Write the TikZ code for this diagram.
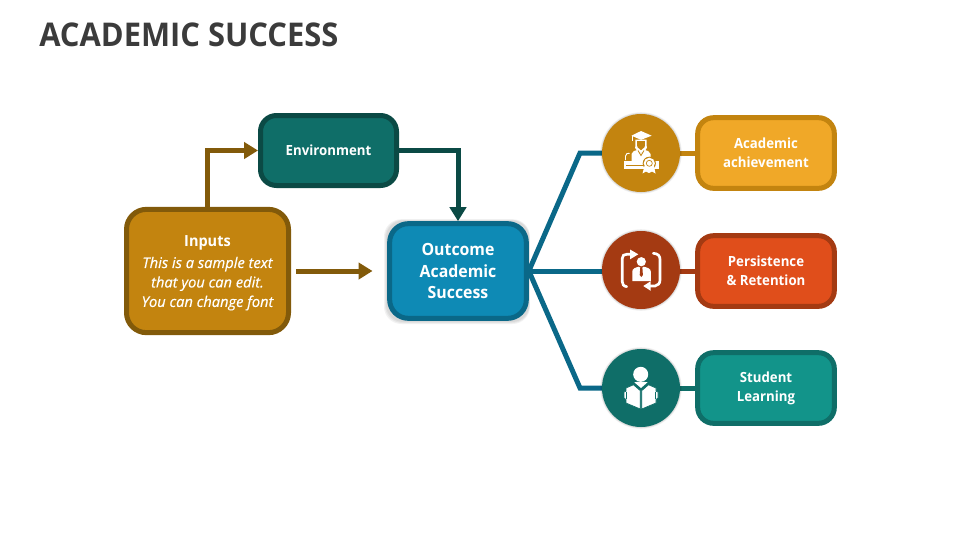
\documentclass[tikz,border=0pt]{standalone}
\usepackage{fontspec}
\setmainfont{Open Sans}[BoldFeatures={FakeStretch=0.945},ItalicFeatures={FakeBold=0.5}]
\usetikzlibrary{arrows.meta}
\definecolor{titleink}{HTML}{3B3B3B}
\definecolor{goldfill}{HTML}{C3840F}
\definecolor{goldline}{HTML}{825A0A}
\definecolor{tealfill}{HTML}{0F6E68}
\definecolor{tealline}{HTML}{0B4A45}
\definecolor{bluefill}{HTML}{0E8AB5}
\definecolor{blueline}{HTML}{0A6888}
\definecolor{amberfill}{HTML}{F0A828}
\definecolor{rustfill}{HTML}{E04E1B}
\definecolor{rustline}{HTML}{A43A12}
\definecolor{seafill}{HTML}{12948A}
\tikzset{
  x=0.75pt,y=-0.75pt,
  card/.style={draw=#1,line width=3.75pt,rounded corners=12pt,align=center,text=white,inner sep=0pt,font=\fontsize{10.5}{14.2}\selectfont\bfseries},
  hub/.style={circle,fill=#1,minimum size=58.5pt,inner sep=0pt},
  link/.style={draw=#1,line width=3.75pt},
  flow/.style={draw=#1,line width=3.75pt,-{Triangle[length=10.5pt,width=12.2pt]}},
  ink/.style={fill=white,draw=none}
}
% soft halo placed beneath a shape
\newcommand{\halocircle}[3]{\foreach \w in {1,2,3}{\fill[black,opacity=0.05] (#1,#2) circle[radius=#3+\w*0.6];}}
\begin{document}
\begin{tikzpicture}
\useasboundingbox (0,0) rectangle (960,540);
\fill[white] (0,0) rectangle (960,540);

\node[anchor=west,text=titleink,font=\fontsize{24.5}{28}\selectfont\bfseries,inner sep=0pt] (title) at (39,34.5) {ACADEMIC SUCCESS};

% halo for the centre card
\foreach \w in {1,2,3}{\fill[black,opacity=0.05,rounded corners=13pt] (387-\w,221-\w*0.6) rectangle (529+\w*0.3,321+\w);}

% left side cards
\node[card=goldline,fill=goldfill,minimum width=121.5pt,minimum height=92.5pt,rounded corners=15pt,font=\fontsize{11}{14.6}\selectfont\itshape] (inputs) at (207.5,271) {\rule{0pt}{11.5pt}{\fontsize{11.5}{14.6}\selectfont\bfseries\upshape Inputs}\\[1.2pt]This is a sample text\\that you can edit.\\You can change font};
\node[card=tealline,fill=tealfill,minimum width=102pt,minimum height=52.5pt] (env) at (328.5,150.5) {Environment};
\node[card=blueline,fill=bluefill,minimum width=102.5pt,minimum height=71pt,rounded corners=14pt,font=\fontsize{12.6}{16.2}\selectfont\bfseries] (outcome) at (458,271) {Outcome\\Academic\\Success};

% right side cards
\node[card=goldfill,fill=amberfill,minimum width=102.5pt,minimum height=53pt] (acad) at (766,153) {Academic\\achievement};
\node[card=rustline,fill=rustfill,minimum width=102.5pt,minimum height=53pt] (pers) at (766,271) {Persistence\\\& Retention};
\node[card=tealfill,fill=seafill,minimum width=102.5pt,minimum height=53pt] (stud) at (766,388) {Student\\Learning};

% connectors from the centre card out to the hubs
\coordinate (bendtop) at (580,153);
\coordinate (bendlow) at (580,388);
\coordinate (htop) at (641,153);
\coordinate (hmid) at (641,271);
\coordinate (hlow) at (641,388);
\draw[link=blueline,line join=miter] (outcome.east) -- (bendtop) -- (htop);
\draw[link=blueline] (outcome.east) -- (hmid);
\draw[link=blueline,line join=miter] (outcome.east) -- (bendlow) -- (hlow);
\draw[link=goldfill] (htop) -- (acad.west);
\draw[link=rustline] (hmid) -- (pers.west);
\draw[link=tealfill] (hlow) -- (stud.west);

% arrows among the left cards
\draw[flow=goldline] (inputs.north) |- (env.west);
\draw[flow=goldline,shorten <=3.75pt,shorten >=11pt] (inputs.east) -- (outcome.west);
\draw[flow=tealline] (env.east) -| (outcome.north);

% hubs
\halocircle{641}{153}{39}
\halocircle{641}{270}{39}
\halocircle{641}{388}{39}
\node[hub=goldfill] (hubacad) at (641,153) {};
\node[hub=rustline] (hubpers) at (641,270) {};
\node[hub=tealfill] (hubstud) at (641,388) {};

% graduate at a lectern
\begin{scope}[shift={(641,153)}]
  \fill[ink] (-9.5,-17.3) -- (0,-22) -- (10.7,-17.3) -- (0,-13.2) -- cycle;
  \draw[white,line width=0.6pt] (-9,-17) -- (-9,-12.5);
  \fill[ink] (-5.5,-13.5) -- (5.5,-13.5) -- (5.8,-5) -- (3,-1) -- (-3,-1) -- (-5.8,-5) -- cycle;
  \fill[goldfill] (-4,-12) -- (4,-12) -- (3.7,-6) -- (0,-2.8) -- (-3.7,-6) -- cycle;
  \fill[ink] (-9.5,8) -- (-9.5,1) .. controls (-9,-2) and (-6,-2.5) .. (-3,-3.2) -- (0,-0.5) -- (3,-3.2) .. controls (6,-2.5) and (9,-2) .. (9.5,1) -- (9.5,8) -- cycle;
  \draw[goldfill,line width=0.6pt] (-3,-2.5) -- (0,2.5) -- (3,-2.5);
  \draw[white,line width=0.7pt] (-15.5,7) -- (-15.5,3) .. controls (-15.5,0.5) and (-13,0) .. (-11.5,0.3);
  \fill[ink] (-17,8) rectangle (17.5,15.8);
  \draw[goldfill,line width=0.5pt] (-15,12) -- (3,12);
  \fill[goldfill] (8.3,10.3) circle[radius=6.6];
  \fill[ink] (3.5,13) -- (1.5,20.5) -- (5,18.5) -- (8,20) -- (11,18.5) -- (14.5,20.5) -- (13,13) -- cycle;
  \fill[ink] (8.3,10.3) circle[radius=5.6];
  \draw[goldfill,line width=0.5pt] (8.3,10.3) circle[radius=3];
\end{scope}

% person between two turning arrows
\begin{scope}[shift={(641,270)}]
  \fill[ink] (0.3,-8.3) circle[radius=4.6];
  \fill[ink] (-8.7,11) -- (-8.7,1.5) .. controls (-8.7,-1.5) and (-5.5,-2.5) .. (-2.2,-3.3) -- (0.3,-1.5) -- (2.8,-3.3) .. controls (6,-2.5) and (9.8,-1.5) .. (9.8,1.5) -- (9.8,11) -- cycle;
  \fill[rustline] (-0.8,-1.8) -- (1.4,-1.8) -- (1.9,5) -- (0.3,7) -- (-1.3,5) -- cycle;
  \draw[white,line width=2pt,line cap=round] (-14.3,16.7) .. controls (-17.5,16) and (-18.7,14.5) .. (-18.7,11.7) -- (-18.7,-11.7) .. controls (-18.7,-14.5) and (-17,-15.7) .. (-14.3,-15.7) -- (-9,-15.7);
  \fill[ink] (-11,-20.5) -- (-2.7,-15.7) -- (-11,-10.7) -- cycle;
  \draw[white,line width=2pt,line cap=round] (12.3,-16.7) .. controls (17,-16.5) and (19,-14) .. (19,-10.7) -- (19,10) .. controls (19,13.5) and (17,15.5) .. (14,16) -- (8,16);
  \fill[ink] (9.7,11.2) -- (2.3,16) -- (9.7,20.8) -- cycle;
\end{scope}

% reader with an open book
\begin{scope}[shift={(641,388)}]
  \fill[ink] (-0.3,-13.7) circle[radius=7.5];
  \fill[ink] (-6.7,-5.7) .. controls (-3,-6.5) and (3,-6.5) .. (6.5,-5.7) -- (0,0) -- cycle;
  \begin{scope}[draw=tealfill,line width=0.5pt]
    \filldraw[fill=white] (-0.7,2.7) -- (-7.5,-3.2) -- (-15,0) -- (-15,3.2) -- (-17,4) -- (-17,10) -- (-15,11.5) -- (-15,15) -- (-0.7,21) -- cycle;
    \filldraw[fill=white] (0.7,2.7) -- (7.5,-3.2) -- (15,0) -- (15,3.2) -- (17,4) -- (17,10) -- (15,11.5) -- (15,15) -- (0.7,21) -- cycle;
  \end{scope}
  \fill[tealfill] (-14.8,4) rectangle (-13.6,10.5);
  \fill[tealfill] (13.6,4) rectangle (14.8,10.5);
\end{scope}
\end{tikzpicture}
\end{document}
